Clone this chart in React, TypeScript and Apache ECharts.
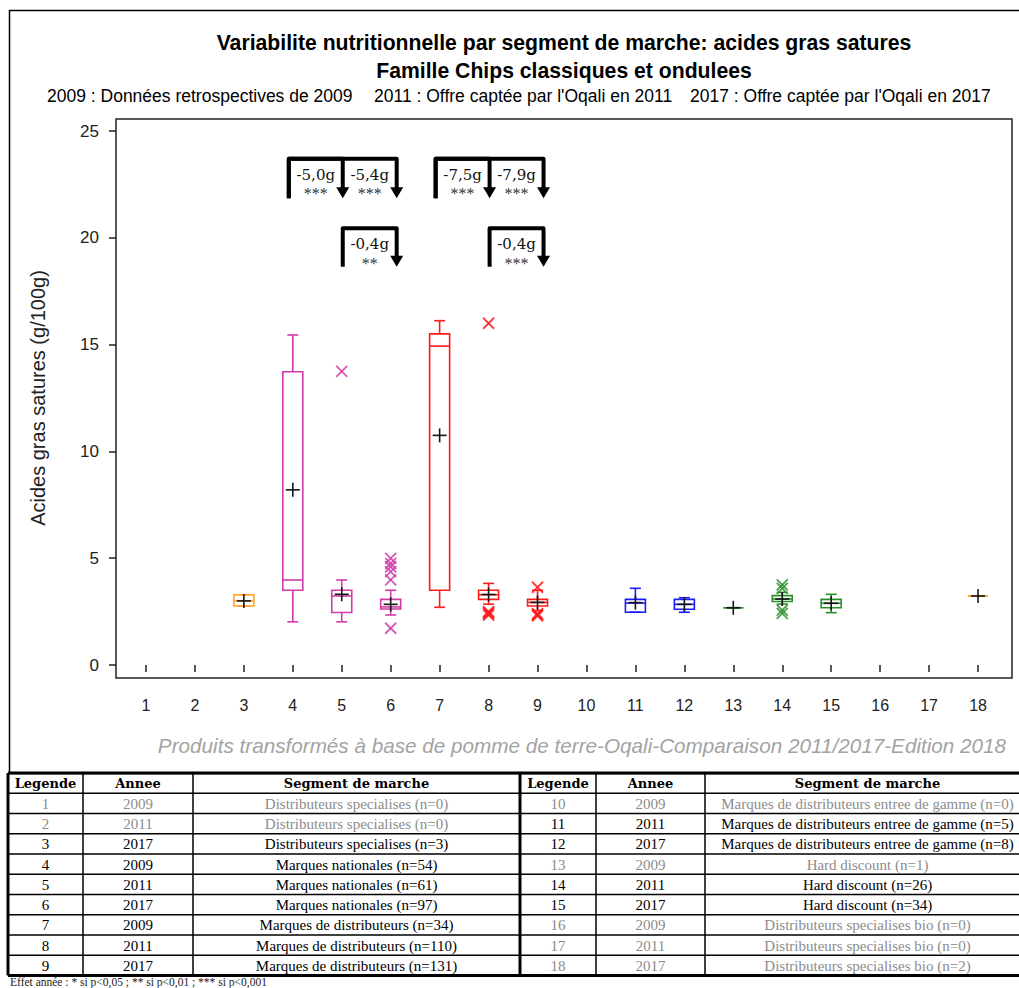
import React, { useEffect, useRef } from "react";
import * as echarts from "echarts";

// ---------- DATA ----------
const categories = ["1", "2", "3", "4", "5", "6", "7", "8", "9", "10", "11", "12", "13", "14", "15", "16", "17", "18"];

const boxCategory = [3, 4, 5, 6, 7, 8, 9, 11, 12, 13, 14, 15, 18];
const boxMin = [2.76, 2.02, 2.02, 2.34, 2.7, 2.85, 2.55, 2.47, 2.47, 2.68, 2.85, 2.45, 3.23];
const boxQ1 = [2.76, 3.5, 2.46, 2.62, 3.5, 3.07, 2.76, 2.47, 2.61, 2.68, 2.97, 2.68, 3.23];
const boxMedian = [3.0, 3.98, 3.23, 2.72, 14.93, 3.29, 2.93, 2.9, 2.84, 2.68, 3.09, 2.89, 3.23];
const boxQ3 = [3.29, 13.73, 3.5, 3.07, 15.5, 3.5, 3.07, 3.07, 3.07, 2.68, 3.25, 3.07, 3.23];
const boxMax = [3.29, 15.45, 3.98, 3.5, 16.12, 3.82, 3.5, 3.59, 3.15, 2.68, 3.4, 3.31, 3.23];
const boxMean = [3.0, 8.2, 3.31, 2.84, 10.75, 3.3, 2.93, 2.92, 2.84, 2.68, 3.09, 2.89, 3.23];

const outlierCategory = [5, 6, 6, 6, 6, 6, 6, 8, 8, 8, 8, 8, 9, 9, 9, 9, 14, 14, 14, 14];
const outlierValue = [13.75, 4.99, 4.76, 4.6, 4.37, 3.98, 1.72, 16.0, 2.5, 2.45, 2.4, 2.33, 3.64, 2.4, 2.35, 2.3, 3.75, 3.59, 2.57, 2.42];

const bracketFrom = [4, 4, 5, 7, 7, 8];
const bracketTo = [5, 6, 6, 8, 9, 9];
const bracketTop = [23.7, 23.7, 20.45, 23.7, 23.7, 20.45];
const bracketBottom = [21.85, 21.85, 18.65, 21.85, 21.85, 18.65];
const bracketDiff = ["-5,0g", "-5,4g", "-0,4g", "-7,5g", "-7,9g", "-0,4g"];
const bracketSig = ["***", "***", "**", "***", "***", "***"];

const tableLegende = ["1", "2", "3", "4", "5", "6", "7", "8", "9", "10", "11", "12", "13", "14", "15", "16", "17", "18"];
const tableAnnee = ["2009", "2011", "2017", "2009", "2011", "2017", "2009", "2011", "2017", "2009", "2011", "2017", "2009", "2011", "2017", "2009", "2011", "2017"];
const tableSegment = [
  "Distributeurs specialises (n=0)",
  "Distributeurs specialises (n=0)",
  "Distributeurs specialises (n=3)",
  "Marques nationales (n=54)",
  "Marques nationales (n=61)",
  "Marques nationales (n=97)",
  "Marques de distributeurs (n=34)",
  "Marques de distributeurs (n=110)",
  "Marques de distributeurs (n=131)",
  "Marques de distributeurs entree de gamme (n=0)",
  "Marques de distributeurs entree de gamme (n=5)",
  "Marques de distributeurs entree de gamme (n=8)",
  "Hard discount (n=1)",
  "Hard discount (n=26)",
  "Hard discount (n=34)",
  "Distributeurs specialises bio (n=0)",
  "Distributeurs specialises bio (n=0)",
  "Distributeurs specialises bio (n=2)",
];
const tableInactive = [true, true, false, false, false, false, false, false, false, true, false, false, true, false, false, true, true, true];

const titleText = "Variabilite nutritionnelle par segment de marche: acides gras satures";
const subtitleText = "Famille Chips classiques et ondulees";
const periodTexts = [
  "2009 : Données retrospectives de 2009",
  "2011 : Offre captée par l'Oqali en 2011",
  "2017 : Offre captée par l'Oqali en 2017",
];
const yAxisTitle = "Acides gras satures (g/100g)";
const footerText = "Produits transformés à base de pomme de terre-Oqali-Comparaison 2011/2017-Edition 2018";
const tableHeaders = ["Legende", "Annee", "Segment de marche"];
const footnoteText = "Effet année : * si p<0,05 ; ** si p<0,01 ; *** si p<0,001";

// ---------- STYLE ----------
function colorOf(cat: number): string {
  if (cat <= 3) return "#FFA326";
  if (cat <= 6) return "#D03CA8";
  if (cat <= 9) return "#FF1A1A";
  if (cat <= 12) return "#1A1AFF";
  if (cat <= 15) return "#2A8F2A";
  return "#FFA326";
}

const SANS = '"Liberation Sans", Arial, sans-serif';
const SERIF = '"Liberation Serif", "Times New Roman", serif';
const BSERIF = '"DejaVu Serif", serif';

function buildGraphic(): any[] {
  const g: any[] = [];
  // outer frame of the chart
  g.push({ type: "rect", silent: true, shape: { x: 9.5, y: 10.5, width: 1040, height: 763 }, style: { fill: "none", stroke: "#000", lineWidth: 1.5 } });
  // plot frame
  g.push({ type: "rect", silent: true, shape: { x: 116, y: 119, width: 896, height: 559 }, style: { fill: "none", stroke: "#222", lineWidth: 1.5 } });

  g.push({ type: "text", x: 564, y: 42, style: { text: titleText, font: `bold 21.2px ${SANS}`, fill: "#000", align: "center", verticalAlign: "middle" } });
  g.push({ type: "text", x: 564, y: 70, style: { text: subtitleText, font: `bold 21.2px ${SANS}`, fill: "#000", align: "center", verticalAlign: "middle" } });
  const periodX = [47, 374, 690];
  periodTexts.forEach((t, i) => {
    g.push({ type: "text", x: periodX[i], y: 96, style: { text: t, font: `17.5px ${SANS}`, fill: "#000", align: "left", verticalAlign: "middle" } });
  });
  g.push({ type: "text", x: 582, y: 745, style: { text: footerText, font: `italic 20.7px ${SANS}`, fill: "#A3A3A3", align: "center", verticalAlign: "middle" } });

  // table
  const top = 773;
  const rowH = 20.25;
  const rowY = (i: number) => top + rowH * i;
  const xLeft = 8;
  const xRight = 1040;
  for (let i = 0; i <= 10; i++) {
    const thick = i === 0 || i === 10;
    g.push({ type: "line", silent: true, shape: { x1: xLeft, y1: rowY(i), x2: xRight, y2: rowY(i) }, style: { stroke: "#000", lineWidth: thick ? 3 : 1.5 } });
  }
  const vLines = [
    { x: 8, w: 3 },
    { x: 83, w: 1.5 },
    { x: 193, w: 1.5 },
    { x: 520, w: 3 },
    { x: 596, w: 1.5 },
    { x: 705, w: 1.5 },
  ];
  vLines.forEach((v) => {
    g.push({ type: "line", silent: true, shape: { x1: v.x, y1: rowY(0), x2: v.x, y2: rowY(10) }, style: { stroke: "#000", lineWidth: v.w } });
  });
  const colCentersL = [45.5, 138, 356.5];
  const colCentersR = [558, 650.5, 867.5];
  [colCentersL, colCentersR].forEach((cc) => {
    tableHeaders.forEach((h, j) => {
      g.push({ type: "text", x: cc[j], y: rowY(0) + rowH / 2 + 0.5, style: { text: h, font: `bold 13px ${BSERIF}`, fill: "#000", align: "center", verticalAlign: "middle" } });
    });
  });
  for (let k = 0; k < 18; k++) {
    const cc = k < 9 ? colCentersL : colCentersR;
    const r = (k % 9) + 1;
    const fill = tableInactive[k] ? "#8C8C8C" : "#000";
    const cells = [tableLegende[k], tableAnnee[k], tableSegment[k]];
    cells.forEach((c, j) => {
      g.push({ type: "text", x: cc[j], y: rowY(r) + rowH / 2 + 0.5, style: { text: c, font: `15px ${SERIF}`, fill, align: "center", verticalAlign: "middle" } });
    });
  }
  g.push({ type: "text", x: 10, y: 981.5, style: { text: footnoteText, font: `11.5px ${SERIF}`, fill: "#222", align: "left", verticalAlign: "middle" } });
  return g;
}

function buildOption(): any {
  const boxData = boxCategory.map((c, i) => [c - 1, boxMin[i], boxQ1[i], boxMedian[i], boxQ3[i], boxMax[i]]);
  const meanData = boxCategory.map((c, i) => [c - 1, boxMean[i]]);
  const outlierData = outlierCategory.map((c, i) => [c - 1, outlierValue[i]]);
  const bracketData = bracketFrom.map((f, i) => [f - 1, bracketTop[i], bracketTo[i] - 1, bracketBottom[i]]);

  const legX = (api: any, idx: number, v: number) => api.coord([idx, v])[0] + (idx % 3) * 5 - 4;

  return {
    animation: false,
    backgroundColor: "#fff",
    grid: { left: 121.5, top: 131, width: 881, height: 534, show: false },
    xAxis: {
      type: "category",
      data: categories,
      boundaryGap: true,
      offset: 13,
      axisLine: { show: false },
      axisTick: { show: true, alignWithLabel: true, length: 7, lineStyle: { color: "#222", width: 1.5 } },
      axisLabel: { interval: 0, margin: 19, fontSize: 16, color: "#222", fontFamily: SANS },
      splitLine: { show: false },
    },
    yAxis: {
      type: "value",
      min: 0,
      max: 25,
      interval: 5,
      offset: 5.5,
      axisLine: { show: false },
      axisTick: { show: true, length: 7, lineStyle: { color: "#222", width: 1.5 } },
      axisLabel: { margin: 17, fontSize: 17, color: "#222", fontFamily: SANS },
      splitLine: { show: false },
      name: yAxisTitle,
      nameLocation: "middle",
      nameRotate: 90,
      nameGap: 68,
      nameTextStyle: { fontSize: 20, color: "#222", fontFamily: SANS },
    },
    series: [
      {
        type: "custom",
        name: "boxes",
        data: boxData,
        encode: { x: 0, y: [1, 2, 3, 4, 5] },
        renderItem: (params: any, api: any) => {
          const idx = api.value(0);
          const color = colorOf(idx + 1);
          const x = api.coord([idx, 0])[0];
          const yMin = api.coord([idx, api.value(1)])[1];
          const yQ1 = api.coord([idx, api.value(2)])[1];
          const yMed = api.coord([idx, api.value(3)])[1];
          const yQ3 = api.coord([idx, api.value(4)])[1];
          const yMax = api.coord([idx, api.value(5)])[1];
          const half = 10;
          const cap = 5.5;
          const st = { stroke: color, lineWidth: 1.6, fill: "none" };
          return {
            type: "group",
            children: [
              { type: "line", shape: { x1: x, y1: yMin, x2: x, y2: yQ1 }, style: st },
              { type: "line", shape: { x1: x, y1: yQ3, x2: x, y2: yMax }, style: st },
              { type: "line", shape: { x1: x - cap, y1: yMin, x2: x + cap, y2: yMin }, style: st },
              { type: "line", shape: { x1: x - cap, y1: yMax, x2: x + cap, y2: yMax }, style: st },
              { type: "rect", shape: { x: x - half, y: yQ3, width: half * 2, height: Math.max(yQ1 - yQ3, 0) }, style: st },
              { type: "line", shape: { x1: x - half, y1: yMed, x2: x + half, y2: yMed }, style: st },
            ],
          };
        },
        z: 3,
      },
      {
        type: "custom",
        name: "outliers",
        data: outlierData,
        encode: { x: 0, y: 1 },
        renderItem: (params: any, api: any) => {
          const idx = api.value(0);
          const p = api.coord([idx, api.value(1)]);
          const h = 5.5;
          const st = { stroke: colorOf(idx + 1), lineWidth: 1.8, opacity: 0.85 };
          return {
            type: "group",
            children: [
              { type: "line", shape: { x1: p[0] - h, y1: p[1] - h, x2: p[0] + h, y2: p[1] + h }, style: st },
              { type: "line", shape: { x1: p[0] - h, y1: p[1] + h, x2: p[0] + h, y2: p[1] - h }, style: st },
            ],
          };
        },
        z: 4,
      },
      {
        type: "custom",
        name: "means",
        data: meanData,
        encode: { x: 0, y: 1 },
        renderItem: (params: any, api: any) => {
          const idx = api.value(0);
          const p = api.coord([idx, api.value(1)]);
          const h = 7;
          const st = { stroke: "#151515", lineWidth: 1.6 };
          return {
            type: "group",
            children: [
              { type: "line", shape: { x1: p[0] - h, y1: p[1], x2: p[0] + h, y2: p[1] }, style: st },
              { type: "line", shape: { x1: p[0], y1: p[1] - h, x2: p[0], y2: p[1] + h }, style: st },
            ],
          };
        },
        z: 5,
      },
      {
        type: "custom",
        name: "brackets",
        data: bracketData,
        encode: { x: [0, 2], y: [1, 3] },
        renderItem: (params: any, api: any) => {
          const i = params.dataIndex;
          const fromIdx = api.value(0);
          const toIdx = api.value(2);
          const yt = api.coord([fromIdx, api.value(1)])[1];
          const yb = api.coord([fromIdx, api.value(3)])[1];
          const xl = legX(api, fromIdx, api.value(1));
          const xr = legX(api, toIdx, api.value(1));
          const xPrev = legX(api, toIdx - 1, api.value(1));
          const xm = (xPrev + xr) / 2;
          return {
            type: "group",
            children: [
              {
                type: "polyline",
                shape: { points: [[xl, yb], [xl, yt], [xr, yt], [xr, yb - 10]] },
                style: { stroke: "#000", lineWidth: 4, fill: "none", lineJoin: "round" },
              },
              {
                type: "polygon",
                shape: { points: [[xr - 6.5, yb - 11], [xr + 6.5, yb - 11], [xr, yb]] },
                style: { fill: "#000" },
              },
              {
                type: "text",
                x: xm,
                y: yt + 16,
                style: { text: bracketDiff[i], font: `15px ${BSERIF}`, fill: "#111", align: "center", verticalAlign: "middle" },
              },
              {
                type: "text",
                x: xm,
                y: yt + 35,
                style: { text: bracketSig[i], font: `16px ${SERIF}`, fill: "#333", align: "center", verticalAlign: "middle" },
              },
            ],
          };
        },
        z: 6,
      },
    ],
    graphic: buildGraphic(),
  };
}

export default function App() {
  const ref = useRef<HTMLDivElement>(null);
  useEffect(() => {
    document.body.style.margin = "0";
    const chart = echarts.init(ref.current as HTMLDivElement, null, { renderer: "svg" });
    chart.setOption(buildOption());
    return () => chart.dispose();
  }, []);
  return <div ref={ref} style={{ width: 1019, height: 988, background: "#fff" }} />;
}
